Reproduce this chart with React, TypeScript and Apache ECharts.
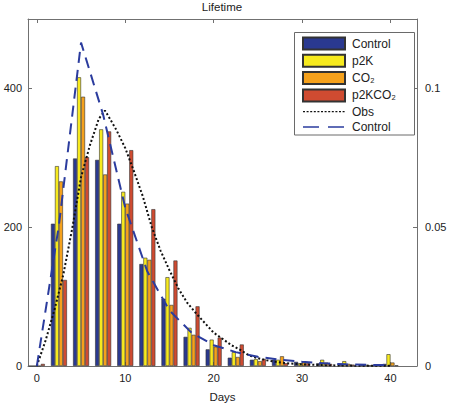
import React, { useEffect, useRef } from "react";
import * as echarts from "echarts";

// Bin centres (days)
const days = [0, 2.5, 5, 7.5, 10, 12.5, 15, 17.5, 20, 22.5, 25, 27.5, 30, 32.5, 35, 37.5, 40];
// Bar heights (left axis, counts)
const controlBars = [0, 205, 299, 297, 205, 147, 97, 42, 24, 12, 9, 9, 6, 4, 3, 2, 3];
const p2kBars = [0, 288, 416, 341, 251, 156, 128, 55, 38, 20, 10, 9, 4, 9, 7, 1.7, 17];
const co2Bars = [0, 266, 388, 276, 234, 153, 88, 45, 28, 13, 7, 14, 5, 5, 3, 1, 5];
const p2kco2Bars = [3, 124, 301, 338, 311, 226, 152, 86, 41, 31, 10, 4, 4, 3, 2, 1, 1];

// Model "Control" pdf (right axis), at the bin centres
const modelControl = [0, 0.0508, 0.1165, 0.0905, 0.057, 0.034, 0.02, 0.012, 0.0075, 0.005, 0.0033, 0.0023, 0.0015, 0.001, 0.0006, 0.0004, 0.0003];

// Observed pdf (right axis)
const obsDays = [0, 1, 2, 3, 4, 5, 6, 7, 7.7, 8, 9, 10, 11, 12, 13, 14, 15, 16, 17, 18, 19, 20, 21, 22, 23, 24, 25, 26, 27, 28, 29, 30, 32, 34, 36, 38, 40];
const obsValues = [0, 0.0093, 0.0203, 0.033, 0.0495, 0.068, 0.0795, 0.089, 0.092, 0.0905, 0.085, 0.0785, 0.07, 0.061, 0.05, 0.0415, 0.0345, 0.028, 0.0228, 0.019, 0.0155, 0.012, 0.0098, 0.0075, 0.0058, 0.0038, 0.0028, 0.0021, 0.0015, 0.0011, 0.0008, 0.0006, 0.00035, 0.0002, 0.00012, 0.00008, 0.00005];

const xTicks = [0, 10, 20, 30, 40];
const leftTicks = [0, 200, 400];
const rightTicks = [0, 0.05, 0.1];

const FONT = "Liberation Sans, Arial, Helvetica, DejaVu Sans, sans-serif";
const AXIS = "#707070";
const TEXT = "#222";

export default function App() {
  const ref = useRef<HTMLDivElement>(null);
  useEffect(() => {
    if (!ref.current) return;
    const chart = echarts.init(ref.current, null, { renderer: "svg" });
    const barBase = (name: string, color: string, vals: number[]) => ({
      name,
      type: "bar",
      xAxisIndex: 0,
      yAxisIndex: 0,
      barWidth: 4,
      barGap: "0%",
      itemStyle: { color, borderColor: "#333", borderWidth: 0.6 },
      data: days.map((d, i) => [d, vals[i]]),
      z: 2,
    });
    const labelNames: Record<string, string> = {
      "Control model": "Control",
    };
    const hidden = { color: "rgba(0,0,0,0)", borderColor: "rgba(0,0,0,0)", borderWidth: 0 };
    const axisLine = { show: true, onZero: false, lineStyle: { color: AXIS, width: 1 } };
    chart.setOption({
      animation: false,
      textStyle: { fontFamily: FONT },
      title: {
        text: "Lifetime",
        left: 222,
        textAlign: "center",
        top: 1,
        padding: 0,
        textStyle: { fontSize: 11.5, fontWeight: "normal", color: TEXT, fontFamily: FONT },
      },
      grid: { left: 28, right: 32, top: 19, bottom: 39, containLabel: false, outerBoundsMode: "none" },
      legend: {
        orient: "vertical",
        left: 302,
        top: 36.5,
        padding: 0,
        itemWidth: 42,
        itemHeight: 12,
        itemGap: 3.3,
        selectedMode: false,
        textStyle: { fontSize: 12, color: TEXT, fontFamily: FONT, lineHeight: 12, padding: [0, 0, 0, 2] },
        formatter: (n: string) => labelNames[n] ?? n,
        data: [
          { name: "Control", icon: "rect" },
          { name: "p2K", icon: "rect" },
          { name: "CO₂", icon: "rect" },
          { name: "p2KCO₂", icon: "rect" },
          { name: "Obs", itemStyle: hidden, lineStyle: { width: 1.3, type: [2, 1.6] } },
          { name: "Control model", itemStyle: hidden, lineStyle: { width: 1.6, type: [16, 9] } },
        ],
        z: 5,
      },
      graphic: [
        {
          type: "rect",
          z: 3,
          shape: { x: 294.5, y: 32.5, width: 120, height: 102.5 },
          style: { fill: "#fff", stroke: "#6a6a6a", lineWidth: 1 },
        },
      ],
      xAxis: [
        {
          type: "value",
          min: -1,
          max: 43,
          position: "bottom",
          name: "Days",
          nameLocation: "middle",
          nameGap: 25,
          nameTextStyle: { fontSize: 11.5, color: TEXT, fontFamily: FONT },
          axisLine,
          axisTick: { show: true, inside: true, length: 4, customValues: xTicks, lineStyle: { color: AXIS } },
          axisLabel: { show: true, customValues: xTicks, margin: 6, fontSize: 11, color: TEXT, fontFamily: FONT },
          splitLine: { show: false },
        },
        {
          type: "value",
          min: -1,
          max: 43,
          position: "top",
          axisLine,
          axisTick: { show: true, inside: true, length: 4, customValues: xTicks, lineStyle: { color: AXIS } },
          axisLabel: { show: false },
          splitLine: { show: false },
        },
      ],
      yAxis: [
        {
          type: "value",
          min: 0,
          max: 500,
          position: "left",
          axisLine,
          axisTick: { show: true, inside: true, length: 4, customValues: leftTicks, lineStyle: { color: AXIS } },
          axisLabel: { show: true, customValues: leftTicks, margin: 6, fontSize: 11, color: TEXT, fontFamily: FONT },
          splitLine: { show: false },
        },
        {
          type: "value",
          min: 0,
          max: 0.125,
          position: "right",
          axisLine,
          axisTick: { show: true, inside: true, length: 4, customValues: rightTicks, lineStyle: { color: AXIS } },
          axisLabel: {
            show: true,
            customValues: rightTicks,
            margin: 8,
            fontSize: 11,
            color: TEXT,
            fontFamily: FONT,
            formatter: (v: number) => String(v),
          },
          splitLine: { show: false },
        },
      ],
      series: [
        barBase("Control", "#2a3990", controlBars),
        barBase("p2K", "#f7ea1e", p2kBars),
        barBase("CO₂", "#f5a11c", co2Bars),
        barBase("p2KCO₂", "#cf4b31", p2kco2Bars),
        {
          name: "Obs",
          type: "line",
          xAxisIndex: 0,
          yAxisIndex: 1,
          symbol: "none",
          lineStyle: { color: "#111", width: 2, type: [2, 2.2] },
          itemStyle: { color: "#111" },
          data: obsDays.map((d, i) => [d, obsValues[i]]),
          z: 4,
        },
        {
          name: "Control model",
          type: "line",
          xAxisIndex: 0,
          yAxisIndex: 1,
          symbol: "none",
          lineStyle: { color: "#2b3c9e", width: 2, type: [11, 7] },
          itemStyle: { color: "#2b3c9e" },
          data: days.map((d, i) => [d, modelControl[i]]),
          z: 4,
        },
      ],
    });
    return () => chart.dispose();
  }, []);
  return (
    <div
      ref={ref}
      style={{ position: "absolute", left: 0, top: 0, width: 449, height: 405, background: "#fff" }}
    />
  );
}
